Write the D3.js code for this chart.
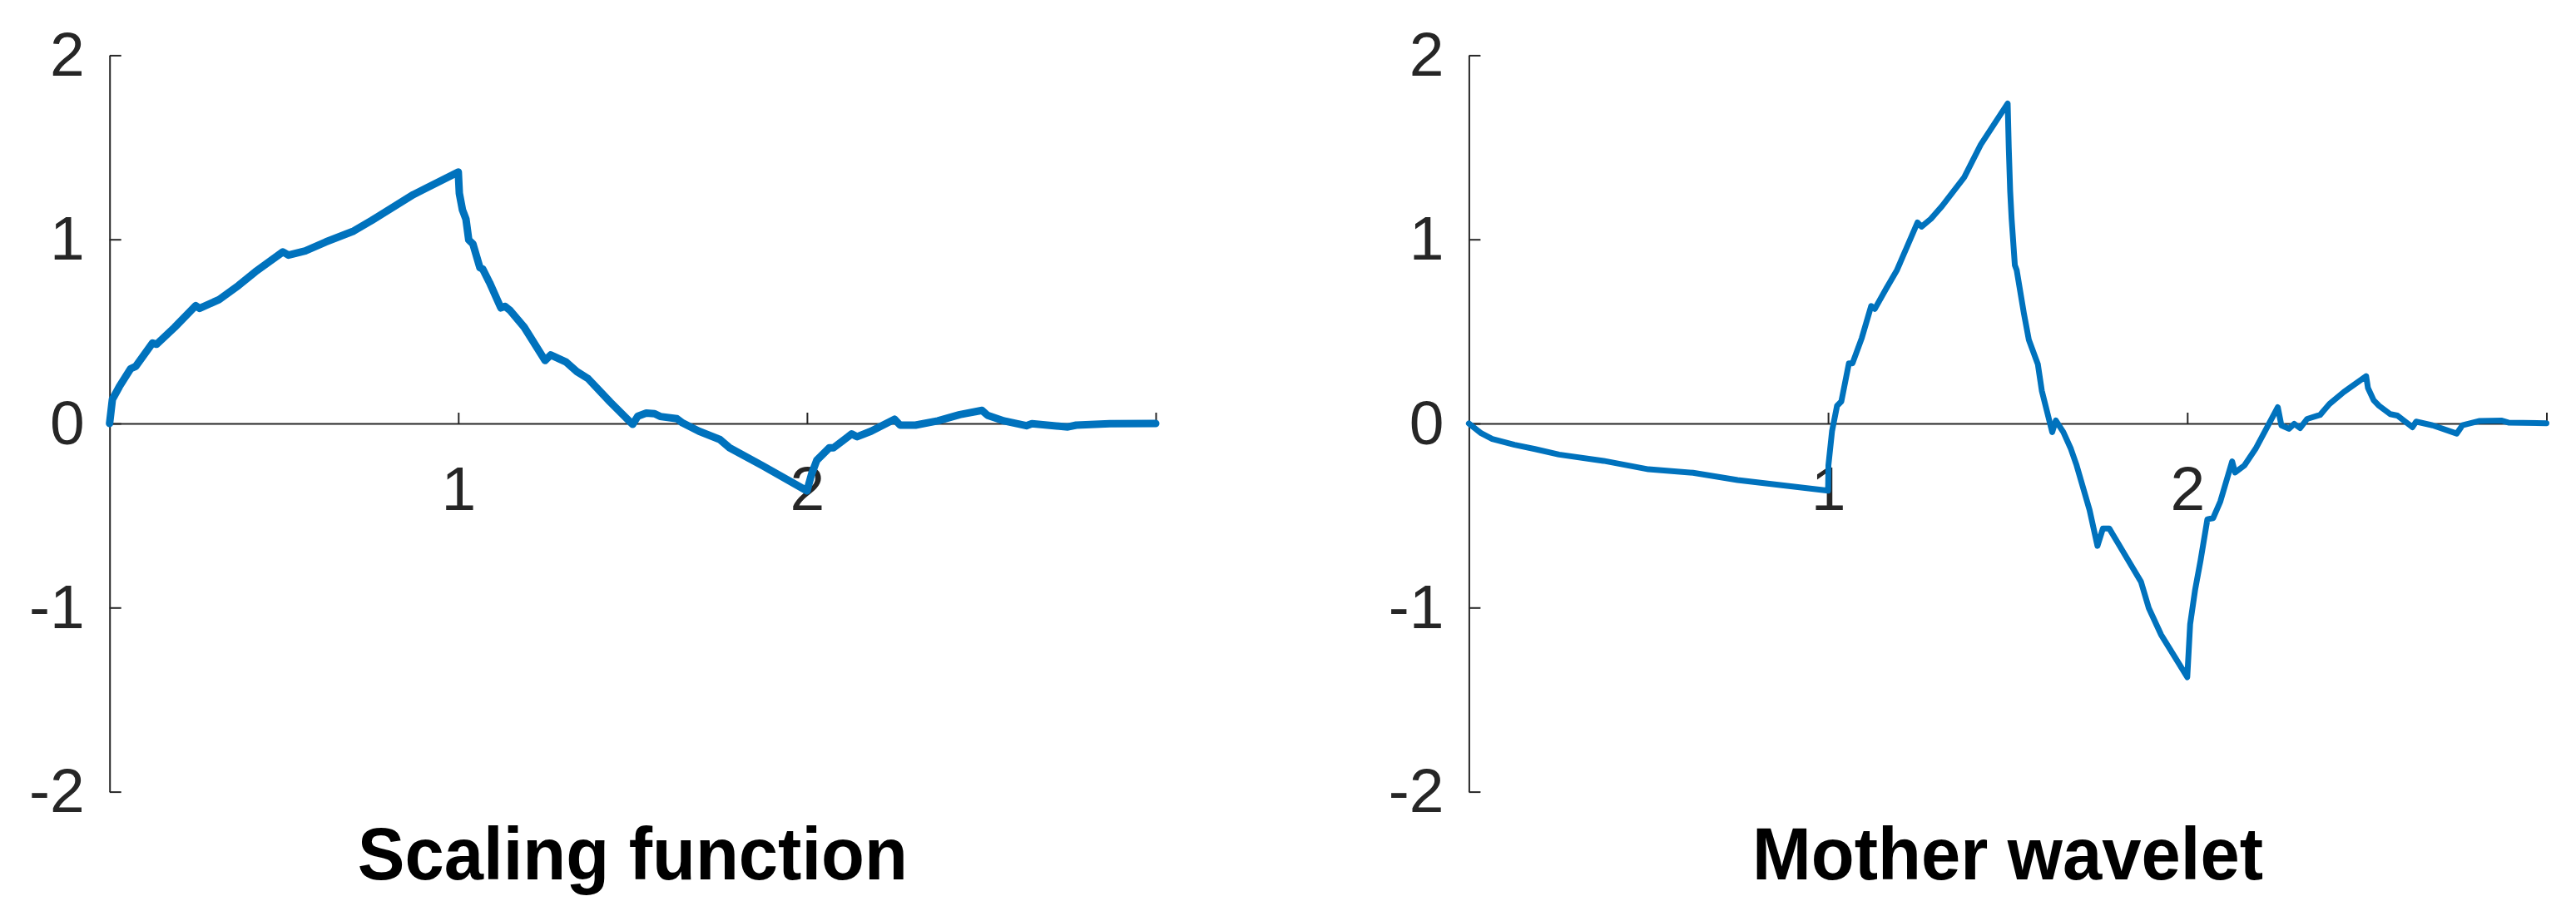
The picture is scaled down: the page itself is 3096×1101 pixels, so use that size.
<!DOCTYPE html>
<html>
<head>
<meta charset="utf-8">
<script src="https://cdn.jsdelivr.net/npm/d3@7"></script>
<style>
  html, body { margin: 0; padding: 0; background: #ffffff; }
  svg { display: block; }
</style>
</head>
<body>
<svg id="chart" width="3096" height="1101"></svg>
<script>
// ---- data ----
const titles = ["Scaling function", "Mother wavelet"];
const yTicks = [-2, -1, 0, 1, 2];
const yTickLabels = ["-2", "-1", "0", "1", "2"];
const xTicks = [1, 2, 3];
const xTickLabels = ["1", "2", ""];

const phiX = [0, 0.008, 0.028, 0.06, 0.075, 0.123, 0.135, 0.187, 0.247, 0.258, 0.314, 0.37, 0.418, 0.497, 0.513, 0.561, 0.62, 0.70, 0.752, 0.871, 1.0,
  1.003, 1.012, 1.022, 1.03, 1.042, 1.062, 1.07, 1.09, 1.122, 1.134, 1.149, 1.189, 1.249, 1.265, 1.309, 1.34, 1.372, 1.436, 1.5,
  1.515, 1.539, 1.563, 1.579, 1.627, 1.643, 1.69, 1.75, 1.778, 1.873, 2.0,
  2.013, 2.028, 2.064, 2.076, 2.128, 2.144, 2.184, 2.251, 2.267, 2.311, 2.375, 2.438, 2.502, 2.518, 2.565, 2.629, 2.645, 2.748, 2.772, 2.868, 3.0];
const phiY = [0, 0.13, 0.20, 0.297, 0.31, 0.437, 0.43, 0.523, 0.64, 0.625, 0.673, 0.75, 0.824, 0.932, 0.914, 0.937, 0.986, 1.045, 1.103, 1.243, 1.366,
  1.25, 1.16, 1.11, 0.997, 0.975, 0.846, 0.839, 0.764, 0.628, 0.636, 0.613, 0.523, 0.342, 0.372, 0.334, 0.282, 0.244, 0.116, -0.005,
  0.04, 0.056, 0.053, 0.038, 0.026, 0.003, -0.042, -0.087, -0.132, -0.23, -0.366,
  -0.276, -0.2, -0.132, -0.132, -0.057, -0.072, -0.042, 0.023, -0.009, -0.009, 0.014, 0.048, 0.071, 0.044, 0.014, -0.012, -0.001, -0.019, -0.009, -0.001, 0];

const psiX = [0, 0.034, 0.065, 0.127, 0.184, 0.251, 0.375, 0.5, 0.624, 0.748, 1.0,
  1.001, 1.011, 1.025, 1.037, 1.058, 1.068, 1.094, 1.12, 1.13, 1.161, 1.192, 1.249, 1.26, 1.286, 1.317, 1.379, 1.425, 1.5,
  1.503, 1.507, 1.511, 1.52, 1.525, 1.545, 1.559, 1.584, 1.595, 1.624, 1.634, 1.655, 1.676, 1.692, 1.728, 1.75, 1.765, 1.783, 1.805, 1.827, 1.871, 1.893, 1.927, 2.0,
  2.008, 2.022, 2.037, 2.056, 2.072, 2.092, 2.125, 2.133, 2.159, 2.19, 2.252, 2.262, 2.283, 2.298, 2.314, 2.334, 2.37, 2.396, 2.436, 2.498,
  2.503, 2.519, 2.534, 2.565, 2.585, 2.627, 2.637, 2.683, 2.75, 2.766, 2.812, 2.874, 2.894, 3.0];
const psiY = [0, -0.053, -0.084, -0.116, -0.139, -0.169, -0.203, -0.249, -0.268, -0.307, -0.365,
  -0.226, -0.042, 0.096, 0.12, 0.327, 0.327, 0.465, 0.638, 0.622, 0.73, 0.834, 1.092, 1.069, 1.111, 1.18, 1.337, 1.514, 1.738,
  1.50, 1.26, 1.111, 0.86, 0.834, 0.60, 0.454, 0.322, 0.178, -0.047, 0.016, -0.047, -0.138, -0.228, -0.47, -0.665, -0.571, -0.571, -0.643, -0.715, -0.859, -1.003, -1.147, -1.378,
  -1.09, -0.902, -0.744, -0.52, -0.514, -0.424, -0.206, -0.266, -0.228, -0.138, 0.088, -0.01, -0.029, -0.002, -0.025, 0.025, 0.047, 0.106, 0.171, 0.257,
  0.193, 0.126, 0.096, 0.051, 0.043, -0.02, 0.01, -0.01, -0.055, -0.01, 0.013, 0.016, 0.005, 0.001];

// ---- layout ----
const svg = d3.select("#chart");
svg.append("rect").attr("width", 3096).attr("height", 1101).attr("fill", "#ffffff");

const panels = [
  { title: titles[0], xs: phiX, ys: phiY, left: 131.7, right: 1389, lw: 9 },
  { title: titles[1], xs: psiX, ys: psiY, left: 1765.4, right: 3060.5, lw: 7 }
];
const plotTop = 66.4, plotBottom = 951.6;
const axisColor = "#262626";
const fontFam = "'Liberation Sans', Arial, Helvetica, sans-serif";

panels.forEach(p => {
  const x = d3.scaleLinear().domain([0, 3]).range([p.left, p.right]);
  const y = d3.scaleLinear().domain([-2, 2]).range([plotBottom, plotTop]);
  const g = svg.append("g");

  // y axis (ticks pointing inward)
  const yAxis = d3.axisLeft(y).tickValues(yTicks).tickFormat((d, i) => yTickLabels[i])
    .tickSizeInner(-14).tickSizeOuter(0).tickPadding(30);
  const ga = g.append("g").attr("transform", `translate(${p.left},0)`).call(yAxis);
  // x axis through origin (ticks pointing up)
  const xAxis = d3.axisBottom(x).tickValues(xTicks).tickFormat((d, i) => xTickLabels[i])
    .tickSizeInner(-13).tickSizeOuter(0).tickPadding(51);
  const gx = g.append("g").attr("transform", `translate(0,${y(0)})`).call(xAxis);

  [ga, gx].forEach(a => {
    a.select(".domain").attr("stroke", axisColor).attr("stroke-width", 2);
    a.selectAll(".tick line").attr("stroke", axisColor).attr("stroke-width", 2);
    a.selectAll(".tick text").attr("fill", axisColor).style("font-family", fontFam).style("font-size", "75px");
  });

  // curve
  const pts = p.xs.map((v, i) => [v, p.ys[i]]);
  const line = d3.line().x(d => x(d[0])).y(d => y(d[1]));
  g.append("path").datum(pts).attr("d", line)
    .attr("fill", "none").attr("stroke", "#0072BD").attr("stroke-width", p.lw)
    .attr("stroke-linejoin", "round").attr("stroke-linecap", "round");

  // title
  const t = g.append("text").attr("x", (p.left + p.right) / 2).attr("y", 1056.7)
    .attr("text-anchor", "middle").attr("fill", "#000")
    .style("font-family", fontFam).style("font-weight", "bold").style("font-size", "89px")
    .text(p.title);
  const L = t.node().getComputedTextLength();
  t.attr("textLength", L * 0.955).attr("lengthAdjust", "spacingAndGlyphs");
});
</script>
</body>
</html>
